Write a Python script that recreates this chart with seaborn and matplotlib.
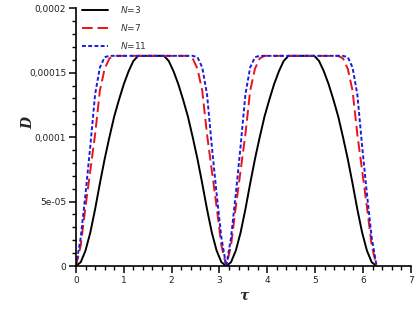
import seaborn as sns
import matplotlib.pyplot as plt
from matplotlib.ticker import AutoMinorLocator, FixedLocator, FixedFormatter
import numpy as np
import pandas as pd

sns.set_theme(style="ticks")

# one hump of D(tau); the curve repeats with period pi
tau_hump = [0.0, 0.1, 0.2, 0.3, 0.4, 0.5, 0.6, 0.7, 0.8, 0.9, 1.0, 1.1, 1.2, 1.3, 1.4, 1.5, 1.571,
            1.64, 1.74, 1.84, 1.94, 2.04, 2.14, 2.24, 2.34, 2.44, 2.54, 2.64, 2.74, 2.84, 2.94, 3.04, 3.1416]

# values in units of 1e-5
d_n3 = [0.0, 0.3, 1.2, 2.6, 4.4, 6.4, 8.3, 10.0, 11.6, 12.9, 14.1, 15.1, 15.9, 16.3, 16.3, 16.3, 16.3,
        16.3, 16.3, 16.3, 15.9, 15.1, 14.1, 12.9, 11.6, 10.0, 8.3, 6.4, 4.4, 2.6, 1.2, 0.3, 0.0]
d_n7 = [0.0, 1.6, 4.6, 7.4, 10.2, 13.6, 15.3, 16.1, 16.3, 16.3, 16.3, 16.3, 16.3, 16.3, 16.3, 16.3, 16.3,
        16.3, 16.3, 16.3, 16.3, 16.3, 16.3, 16.3, 16.3, 16.1, 15.3, 13.6, 10.2, 7.4, 4.6, 1.6, 0.0]
d_n11 = [0.0, 2.2, 5.6, 9.3, 13.3, 15.4, 16.2, 16.3, 16.3, 16.3, 16.3, 16.3, 16.3, 16.3, 16.3, 16.3, 16.3,
         16.3, 16.3, 16.3, 16.3, 16.3, 16.3, 16.3, 16.3, 16.3, 16.2, 15.4, 13.3, 9.3, 5.6, 2.2, 0.0]

labels = ["$N$=3", "$N$=7", "$N$=11"]
colors = ["black", "#e8141c", "#1a1ae0"]

y_ticks = [0, 0.00005, 0.0001, 0.00015, 0.0002]
y_ticklabels = ["0", "5e-05", "0,0001", "0,00015", "0,0002"]

rows = []
for lab, vals in zip(labels, [d_n3, d_n7, d_n11]):
    for period in range(2):
        for t, v in zip(tau_hump, vals):
            rows.append({"tau": t + period * np.pi, "D": v * 1e-5, "N": lab})
df = pd.DataFrame(rows)

fig = plt.figure(figsize=(4.15, 3.13), dpi=100)
ax = fig.add_axes([0.183, 0.150, 0.807, 0.824])

sns.lineplot(data=df, x="tau", y="D", hue="N", style="N", ax=ax,
             palette=dict(zip(labels, colors)),
             dashes={labels[0]: "", labels[1]: (5.5, 2.5), labels[2]: (2, 1.2)},
             estimator=None, sort=False, linewidth=1.4)

ax.set_xlim(0, 7)
ax.set_ylim(0, 0.0002)
ax.yaxis.set_major_locator(FixedLocator(y_ticks))
ax.yaxis.set_major_formatter(FixedFormatter(y_ticklabels))
ax.xaxis.set_minor_locator(AutoMinorLocator(5))
ax.yaxis.set_minor_locator(AutoMinorLocator(5))
ax.tick_params(which="major", length=5, width=1.1, labelsize=6.5, pad=2, color="black")
ax.tick_params(which="minor", length=3, width=1.0, color="black")
for lbl in ax.get_xticklabels() + ax.get_yticklabels():
    lbl.set_color("#222222")

sns.despine(ax=ax)
ax.spines["left"].set_linewidth(1.2)
ax.spines["bottom"].set_linewidth(1.2)
ax.spines["left"].set_color("black")
ax.spines["bottom"].set_color("black")

ax.set_xlabel("τ", fontfamily="DejaVu Serif", fontstyle="italic", fontweight="bold", fontsize=10, labelpad=3)
ax.set_ylabel("D", fontfamily="DejaVu Serif", fontstyle="italic", fontweight="bold", fontsize=10,
              rotation=90)
ax.yaxis.set_label_coords(-0.12, 0.555)

leg = ax.legend(loc="upper left", bbox_to_anchor=(0.0, 1.04), frameon=False, fontsize=6.5,
                handlelength=2.9, handletextpad=1.3, labelspacing=0.75, borderaxespad=0.3)
for t in leg.get_texts():
    t.set_color("#333333")

plt.savefig("out.png", dpi=100)
